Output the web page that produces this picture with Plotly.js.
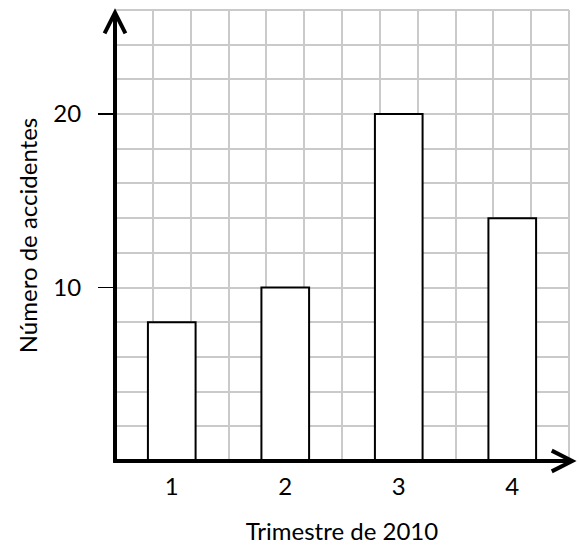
<!DOCTYPE html>
<html>
<head>
<meta charset="utf-8">
<script src="https://cdn.plot.ly/plotly-3.0.1.min.js"></script>
<style>html,body{margin:0;padding:0;background:#fff}#chart{width:579px;height:548px}</style>
</head>
<body>
<div id="chart"></div>
<script>
const quarters = [1, 2, 3, 4];
const accidents = [8, 10, 20, 14];
const yTickVals = [10, 20];
const xTickLabels = ['1', '2', '3', '4'];
const xTitle = 'Trimestre de 2010';
const yTitle = 'Número de accidentes';

const font = {family: 'Lato, "Open Sans", sans-serif', size: 24, color: '#000'};
const grid = '#cacaca';
const gw = 2;
// grid squares: three per quarter along x
const xGrid = [];
for (let i = 0; i <= 12; i++) xGrid.push(0.5 + i / 3);

const trace = {
  type: 'bar',
  x: quarters,
  y: accidents,
  width: 0.42,
  marker: {color: '#ffffff', line: {color: '#000', width: 2}},
  hoverinfo: 'x+y'
};

const layout = {
  width: 579, height: 548,
  margin: {l: 115, r: 10, t: 10, b: 86.5},
  paper_bgcolor: '#fff', plot_bgcolor: '#fff',
  showlegend: false,
  font: font,
  xaxis: {
    range: [0.5, 4.5],
    tickmode: 'array', tickvals: quarters, ticktext: xTickLabels,
    ticks: 'outside', ticklen: 4, tickcolor: 'rgba(0,0,0,0)',
    showgrid: false, zeroline: false, showline: false,
    minor: {tickmode: 'array', tickvals: xGrid, showgrid: true, gridcolor: grid, gridwidth: gw, ticks: ''},
    title: {text: xTitle, font: font, standoff: 24},
    fixedrange: true
  },
  yaxis: {
    range: [0, 26],
    tickmode: 'array', tickvals: yTickVals,
    ticks: 'outside', ticklen: 16, tickwidth: 1.5, tickcolor: '#000',
    ticklabelstandoff: 12,
    showgrid: true, gridcolor: grid, gridwidth: gw,
    zeroline: false, showline: false,
    minor: {tick0: 0, dtick: 2, showgrid: true, gridcolor: grid, gridwidth: gw, ticks: ''},
    title: {text: yTitle, font: font, standoff: 8},
    fixedrange: true
  },
  shapes: [
    {type: 'line', xref: 'paper', yref: 'paper', x0: 0, x1: 1, y0: 1, y1: 1, line: {color: grid, width: gw}},
    {type: 'line', xref: 'paper', yref: 'paper', x0: 1, x1: 1, y0: 0, y1: 1, line: {color: grid, width: gw}},
    {type: 'line', xref: 'paper', yref: 'paper', x0: 0, x1: 0, y0: -0.004, y1: 0.994, line: {color: '#000', width: 4}},
    {type: 'path', xref: 'paper', yref: 'paper', path: 'M -0.023,0.948 L 0,0.994 L 0.023,0.948', line: {color: '#000', width: 4}},
    {type: 'line', xref: 'paper', yref: 'paper', x0: -0.004, x1: 1.007, y0: 0, y1: 0, line: {color: '#000', width: 4}},
    {type: 'path', xref: 'paper', yref: 'paper', path: 'M 0.962,0.023 L 1.007,0 L 0.962,-0.023', line: {color: '#000', width: 4}}
  ]
};

Plotly.newPlot('chart', [trace], layout, {displayModeBar: false, staticPlot: true});
</script>
</body>
</html>
